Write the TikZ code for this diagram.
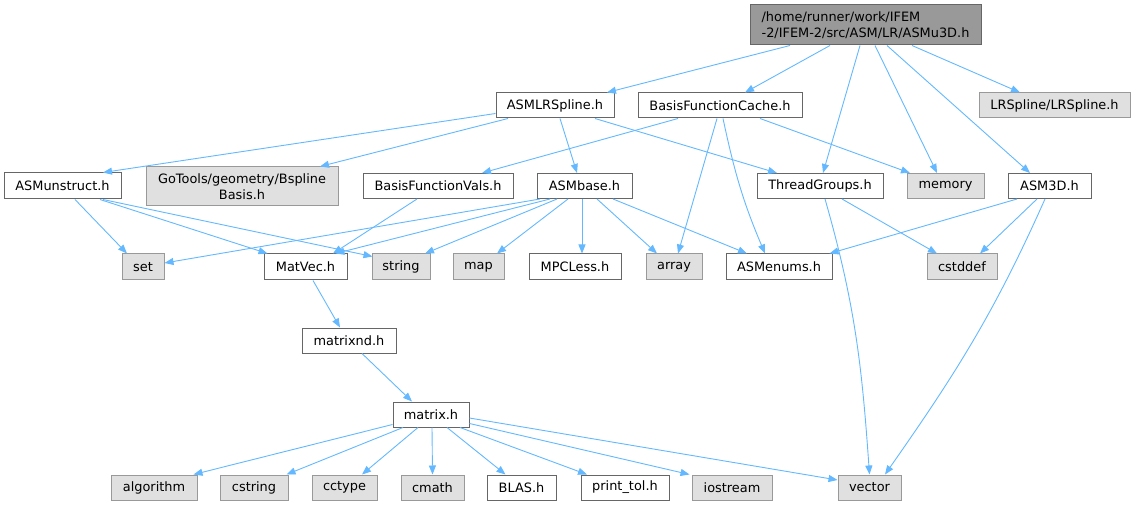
\documentclass[tikz,border=0pt]{standalone}
\usepackage{fontspec}
\setmainfont{DejaVu Sans}
\usetikzlibrary{arrows.meta}
\definecolor{edgec}{HTML}{63B8FF}
\definecolor{grayfill}{HTML}{E0E0E0}
\definecolor{graybord}{HTML}{999999}
\definecolor{darkbord}{HTML}{666666}
\definecolor{rootfill}{HTML}{999999}
\begin{document}
\begin{tikzpicture}[x=1pt,y=-1pt,
  box/.style={draw=darkbord, fill=white, line width=1pt, inner sep=0pt, minimum height=25pt, font=\fontsize{12.9}{15.5}\selectfont},
  sys/.style={box, draw=graybord, fill=grayfill},
  rootbox/.style={box, fill=rootfill, align=left, minimum height=40pt},
  twoline/.style={sys, align=center, minimum height=39pt},
  dep/.style={draw=edgec, line width=0.9pt, -{Triangle[length=9pt,width=7pt]}}]
\useasboundingbox (0,0) rectangle (1136,505);
% nodes
\node[rootbox, minimum width=231pt] (root) at (865.5,25) {/home/runner/work/IFEM\\-2/IFEM-2/src/ASM/LR/ASMu3D.h};
\node[box, minimum width=118pt] (lrs) at (555,105.5) {ASMLRSpline.h};
\node[box, minimum width=164pt] (bfc) at (720,105.5) {BasisFunctionCache.h};
\node[sys, minimum width=151pt] (lrspl) at (1054.5,105.5) {LRSpline/LRSpline.h};
\node[box, minimum width=117pt, minimum height=26pt] (unst) at (62.5,186) {ASMunstruct.h};
\node[twoline, minimum width=192pt] (goto) at (242,186.5) {GoTools/geometry/Bspline\\Basis.h};
\node[box, minimum width=150pt] (bfv) at (438,186) {BasisFunctionVals.h};
\node[box, minimum width=95pt] (base) at (584.5,186) {ASMbase.h};
\node[box, minimum width=126pt] (tg) at (820,186) {ThreadGroups.h};
\node[sys, minimum width=77pt] (mem) at (945.5,186) {memory};
\node[box, minimum width=83pt] (a3d) at (1049.5,186) {ASM3D.h};
\node[sys, minimum width=42pt, minimum height=26pt] (set) at (143,267) {set};
\node[box, minimum width=83pt, minimum height=26pt] (matvec) at (305.5,267) {MatVec.h};
\node[sys, minimum width=58pt, minimum height=26pt] (string) at (401,267) {string};
\node[sys, minimum width=51pt, minimum height=26pt] (map) at (478.5,267) {map};
\node[box, minimum width=92pt, minimum height=26pt] (mpc) at (575,267) {MPCLess.h};
\node[sys, minimum width=56pt, minimum height=26pt] (array) at (674,267) {array};
\node[box, minimum width=106pt, minimum height=26pt] (enums) at (779,267) {ASMenums.h};
\node[sys, minimum width=70pt, minimum height=26pt] (cstddef) at (962,267) {cstddef};
\node[box, minimum width=94pt] (mnd) at (349,340.5) {matrixnd.h};
\node[box, minimum width=76pt] (matrix) at (431,414.5) {matrix.h};
\node[sys, minimum width=86pt] (algo) at (154,487.5) {algorithm};
\node[sys, minimum width=68pt] (cstring) at (254,487.5) {cstring};
\node[sys, minimum width=65pt] (cctype) at (344.5,487.5) {cctype};
\node[sys, minimum width=63pt] (cmath) at (432.5,487.5) {cmath};
\node[box, minimum width=69pt] (blas) at (521.5,487.5) {BLAS.h};
\node[box, minimum width=88pt] (ptol) at (625,487.5) {print\_tol.h};
\node[sys, minimum width=80pt] (iostream) at (732,487.5) {iostream};
\node[sys, minimum width=63pt] (vector) at (869.5,487.5) {vector};
% edges from root
\draw[dep] ([xshift=-75.5pt]root.south) -- ([xshift=52pt]lrs.north);
\draw[dep] ([xshift=-35.5pt]root.south) -- ([xshift=25pt]bfc.north);
\draw[dep] ([xshift=-5.5pt]root.south) -- ([xshift=3pt]tg.north);
\draw[dep] ([xshift=9.5pt]root.south) -- ([xshift=-8.5pt]mem.north);
\draw[dep] ([xshift=21.5pt]root.south) -- ([xshift=-19.5pt]a3d.north);
\draw[dep] ([xshift=46.5pt]root.south) -- ([xshift=-34.5pt]lrspl.north);
% ASMLRSpline
\draw[dep] ([yshift=5pt]lrs.south west) -- ([xshift=40.5pt]unst.north);
\draw[dep] ([xshift=-47pt]lrs.south) -- ([xshift=78pt]goto.north);
\draw[dep] ([xshift=5pt]lrs.south) -- ([xshift=-7.5pt]base.north);
\draw[dep] ([xshift=40pt]lrs.south) -- ([xshift=-43pt]tg.north);
% BasisFunctionCache
\draw[dep] ([xshift=-42pt]bfc.south) -- ([xshift=44pt]bfv.north);
\draw[dep] ([xshift=-3pt]bfc.south) -- ([xshift=4pt]array.north);
\draw[dep] ([xshift=3pt]bfc.south) to[out=-78,in=113] ([xshift=-14pt]enums.north);
\draw[dep] ([xshift=40pt]bfc.south) -- ([xshift=-35.5pt]mem.north);
% ASMunstruct
\draw[dep] ([xshift=12.5pt]unst.south) -- ([xshift=-16pt]set.north);
\draw[dep] ([xshift=37.5pt]unst.south) -- ([xshift=4pt]matvec.north west);
\draw[dep] ([xshift=40.5pt]unst.south) -- ([xshift=1pt,yshift=-3pt]string.north west);
% BasisFunctionVals
\draw[dep] ([xshift=-21pt]bfv.south) -- ([xshift=27.5pt]matvec.north);
% ASMbase
\draw[dep] ([xshift=-44.5pt]base.south) -- ([yshift=4pt]set.east);
\draw[dep] ([xshift=-34.5pt]base.south) -- ([xshift=-12pt]matvec.north east);
\draw[dep] ([xshift=-27.5pt]base.south) -- ([xshift=24pt]string.north);
\draw[dep] ([xshift=-16.5pt]base.south) -- ([xshift=18.5pt]map.north);
\draw[dep] ([xshift=-2.5pt]base.south) -- ([xshift=7pt]mpc.north);
\draw[dep] ([xshift=12.5pt]base.south) -- ([xshift=-17pt]array.north);
\draw[dep] ([xshift=28.5pt]base.south) -- ([xshift=-32pt]enums.north);
% ThreadGroups
\draw[dep] ([xshift=22pt]tg.south) -- ([xshift=-25pt]cstddef.north);
\draw[dep] ([xshift=5pt]tg.south) to[out=-74,in=94] (vector.north);
% ASM3D
\draw[dep] ([xshift=-32.5pt]a3d.south) -- ([xshift=-3pt]enums.north east);
\draw[dep] ([xshift=-12.5pt]a3d.south) -- ([xshift=18pt]cstddef.north);
\draw[dep] ([xshift=-4.5pt]a3d.south) to[out=-114,in=55] ([xshift=15.5pt]vector.north);
% MatVec, matrixnd
\draw[dep] ([xshift=7.5pt]matvec.south) -- ([xshift=-9pt]mnd.north);
\draw[dep] ([xshift=13pt]mnd.south) -- ([xshift=-19pt]matrix.north);
% matrix
\draw[dep] ([yshift=3pt]matrix.south west) -- ([xshift=-4pt]algo.north east);
\draw[dep] ([xshift=-28pt]matrix.south) -- ([xshift=-2pt]cstring.north east);
\draw[dep] ([xshift=-13pt]matrix.south) -- ([xshift=17.5pt]cctype.north);
\draw[dep] ([xshift=1pt]matrix.south) -- (cmath.north);
\draw[dep] ([xshift=16pt]matrix.south) -- ([xshift=-16pt]blas.north);
\draw[dep] ([xshift=29pt]matrix.south) -- ([xshift=-38pt]ptol.north);
\draw[dep] ([yshift=4pt]matrix.south east) -- ([xshift=-2pt]iostream.north west);
\draw[dep] ([yshift=-3.5pt]matrix.east) -- ([yshift=7.5pt]vector.west);
\end{tikzpicture}
\end{document}
